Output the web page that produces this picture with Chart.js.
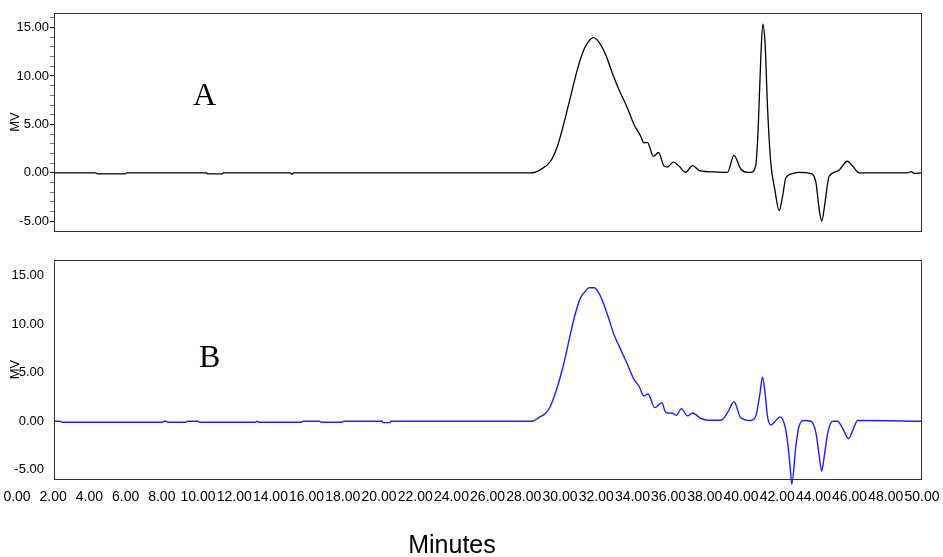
<!DOCTYPE html>
<html>
<head>
<meta charset="utf-8">
<title>Chromatograms A and B</title>
<script src="https://cdn.jsdelivr.net/npm/chart.js@4.4.0/dist/chart.umd.min.js"></script>
<style>
  body { margin: 0; background: #fff; }
  #wrap { position: relative; width: 943px; height: 557px; background: #fff; font-family: "Liberation Sans", Arial, sans-serif; overflow: hidden; }
  #wrap canvas { position: absolute; left: 0; }
  .tag { position: absolute; font-family: "Liberation Serif", "Times New Roman", serif; font-size: 32px; line-height: 32px; color: #000; }
  #minutes { position: absolute; left: 352px; width: 200px; top: 532px; text-align: center; font-size: 25px; line-height: 25px; color: #000; }
</style>
</head>
<body>
<div id="wrap">
  <canvas id="chartA" width="943" height="240" style="top:0"></canvas>
  <canvas id="chartB" width="943" height="250" style="top:245px"></canvas>
  <canvas id="axisX" width="943" height="74" style="top:483px"></canvas>
  <div class="tag" style="left:193px;top:78px">A</div>
  <div class="tag" style="left:199px;top:340px">B</div>
  <div id="minutes">Minutes</div>
</div>
<script>
Chart.defaults.font.family = '"Liberation Sans", Arial, sans-serif';
Chart.defaults.color = '#000';
Chart.defaults.animation = false;

// trace A (minutes / mV)
const timesA = [0, 2.4, 2.5, 4.1, 4.2, 8.8, 8.85, 9.7, 9.75, 13.6, 13.7, 13.8,
  27.45, 28.03, 28.6, 28.99, 29.37, 29.76, 30.14, 30.52, 30.81, 31.07,
  31.39, 31.78, 32.16, 32.54, 33.03, 33.41, 33.79, 33.98, 34.18, 34.53,
  34.82, 35.14, 35.33, 35.68, 36.0, 36.39, 36.78, 37.21, 38.02, 38.79,
  39.17, 39.56, 39.95, 40.14, 40.42, 40.56, 40.71, 40.83, 40.96, 41.1,
  41.29, 41.52, 41.77, 41.97, 42.16, 42.54, 42.92, 43.6, 43.89, 44.08,
  44.23, 44.41, 44.65, 45.14, 45.71, 46.0, 46.38, 49.17, 49.37, 49.55, 50];
const mvA = [0, 0, -0.1, -0.1, 0, 0, -0.1, -0.1, 0, 0, -0.15, 0,
  0, 0.34, 1.2, 2.7, 5.1, 7.9, 10.6, 12.7, 13.6, 13.95,
  13.5, 12.2, 10.3, 8.6, 6.7, 5.0, 3.8, 3.1, 3.15, 1.7,
  2.1, 0.7, 0.6, 1.1, 0.7, 0.06, 0.75, 0.2, 0.1, 0.06,
  1.8, 0.4, 0.06, 0.06, 0.7, 4.45, 11.7, 15.36, 13.4, 6.85,
  1.0, -1.7, -3.9, -2.4, -0.5, -0.07, 0.06, -0.07, -1.0, -3.8,
  -4.98, -3.1, -0.35, 0.17, 1.2, 0.7, 0, 0, 0.13, -0.05, 0];

// trace B
const timesB = [0, 0.35, 0.45, 6.25, 6.35, 6.45, 6.55, 7.6, 7.7, 8.3,
  8.4, 11.6, 11.7, 11.8, 14.25, 14.35, 15.3, 15.4, 16.6, 16.7,
  18.9, 18.95, 19.35, 19.4, 27.55, 27.93, 28.32, 28.6, 28.89, 29.18,
  29.47, 29.76, 30.05, 30.33, 30.62, 30.81, 31.1, 31.39, 31.68, 31.97,
  32.25, 32.64, 33.03, 33.41, 33.7, 33.98, 34.22, 34.6, 35.01, 35.24,
  35.62, 35.85, 36.14, 36.49, 36.78, 37.26, 37.73, 38.41, 38.79, 39.17,
  39.56, 40.14, 40.42, 40.67, 40.81, 40.96, 41.1, 41.29, 41.52, 41.81,
  42.02, 42.21, 42.4, 42.5, 42.73, 42.92, 43.21, 43.6, 43.89, 44.08,
  44.22, 44.37, 44.57, 44.85, 45.14, 45.42, 45.77, 46.0, 46.29, 50];
const mvB = [0, 0, -0.1, -0.1, 0, 0, -0.1, -0.1, 0, 0,
  -0.1, -0.1, 0, -0.1, -0.1, 0, 0, -0.1, -0.1, 0,
  0, -0.15, -0.15, 0, 0, 0.38, 0.82, 1.57, 2.95, 4.66,
  6.72, 9.1, 11.2, 12.7, 13.4, 13.75, 13.75, 13.2, 12.0, 10.5,
  8.95, 7.4, 5.86, 4.3, 3.6, 2.6, 2.8, 1.4, 1.9, 0.9,
  0.82, 0.6, 1.3, 0.55, 0.85, 0.28, 0.1, 0.1, 0.86, 2.0,
  0.35, 0.07, 0.5, 2.9, 4.55, 2.9, 0.5, -0.4, -0.06, 0.45,
  0, -1.5, -4.6, -6.5, -2.6, -0.5, 0.07, 0, -1.2, -3.6,
  -5.15, -3.6, -1.2, 0, 0, -0.7, -1.8, -1.0, 0.07, 0];

const xTicks = [0, 2, 4, 6, 8, 10, 12, 14, 16, 18, 20, 22, 24, 26, 28, 30, 32, 34, 36, 38, 40, 42, 44, 46, 48, 50];
const xTickLabels = ['0.00', '2.00', '4.00', '6.00', '8.00', '10.00', '12.00', '14.00', '16.00', '18.00', '20.00',
  '22.00', '24.00', '26.00', '28.00', '30.00', '32.00', '34.00', '36.00', '38.00', '40.00',
  '42.00', '44.00', '46.00', '48.00', '50.00'];
const yTicks = [-5, 0, 5, 10, 15];
const yTickLabels = ['-5.00', '0.00', '5.00', '10.00', '15.00'];
const yMinorTicks = [-5, -4, -3, -2, -1, 0, 1, 2, 3, 4, 5, 6, 7, 8, 9, 10, 11, 12, 13, 14, 15, 16];

// box round the plot area
const framePlugin = {
    id: 'frame',
    afterDatasetsDraw(chart) {
        const { ctx, chartArea: a } = chart;
        ctx.save();
        ctx.strokeStyle = '#333';
        ctx.lineWidth = 1;
        ctx.strokeRect(Math.round(a.left) + 0.5, Math.round(a.top) + 0.5,
            Math.round(a.right - a.left) - 1, Math.round(a.bottom - a.top));
        ctx.restore();
    }
};

function makePanel(id, times, values, color, o) {
    return new Chart(document.getElementById(id), {
        type: 'line',
        data: {
            datasets: [{
                data: times.map((t, i) => ({ x: t, y: values[i] })),
                borderColor: color,
                borderWidth: o.lineWidth,
                pointRadius: 0,
                cubicInterpolationMode: 'monotone',
                clip: false
            }]
        },
        options: {
            responsive: false,
            layout: { padding: { left: 0, right: 21, top: o.padTop, bottom: o.padBottom } },
            plugins: { legend: { display: false }, tooltip: { enabled: false } },
            scales: {
                x: { type: 'linear', min: 0, max: 50, display: false },
                y: {
                    min: o.min, max: o.max,
                    afterBuildTicks: s => { s.ticks = (o.minor ? yMinorTicks : yTicks).map(v => ({ value: v })); },
                    afterFit: s => { s.width = 54; },
                    border: { display: false },
                    grid: {
                        display: o.minor,
                        drawOnChartArea: false,
                        tickLength: 4,
                        tickColor: c => yTicks.includes(c.tick && c.tick.value) ? '#000' : '#777'
                    },
                    ticks: {
                        autoSkip: false,
                        padding: o.minor ? 1 : 6,
                        font: { size: 13 },
                        callback: v => { const i = yTicks.indexOf(v); return i < 0 ? '' : yTickLabels[i]; }
                    },
                    title: { display: true, text: 'MV', font: { size: 13 }, padding: { top: 8, bottom: 0 } }
                }
            }
        },
        plugins: [framePlugin]
    });
}

makePanel('chartA', timesA, mvA, '#000', { lineWidth: 1.3, min: -6, max: 16.5, minor: true, padTop: 13, padBottom: 9 });
makePanel('chartB', timesB, mvB, 'rgb(30,30,255)', { lineWidth: 1.4, min: -5.95, max: 16.6, minor: false, padTop: 15, padBottom: 16 });

// shared minutes axis under panel B
new Chart(document.getElementById('axisX'), {
    type: 'line',
    data: { datasets: [] },
    options: {
        responsive: false,
        layout: { padding: { left: 17, right: 21, top: 6, bottom: 0 } },
        plugins: { legend: { display: false }, tooltip: { enabled: false } },
        scales: {
            x: {
                type: 'linear', min: 0, max: 50, position: 'top',
                afterBuildTicks: s => { s.ticks = xTicks.map(v => ({ value: v })); },
                grid: { display: false },
                border: { display: false },
                ticks: {
                    autoSkip: false, maxRotation: 0, padding: 0,
                    font: { size: 14 },
                    callback: v => xTickLabels[xTicks.indexOf(v)]
                }
            },
            y: { display: false }
        }
    }
});
</script>
</body>
</html>
